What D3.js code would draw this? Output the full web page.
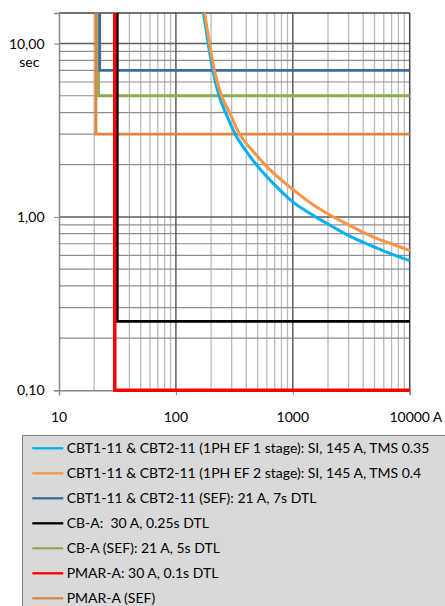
<!DOCTYPE html>
<html><head><meta charset="utf-8">
<script src="https://cdn.jsdelivr.net/npm/d3@7"></script>
<style>body{margin:0;background:#fff}svg{display:block}text{font-family:Lato,"Open Sans",sans-serif;fill:#000}</style>
</head><body>
<svg id="c" width="445" height="606"></svg>
<script>
// ---- data ----
const xTicks = [10, 100, 1000, 10000];
const xTickLabels = ["10", "100", "1000", "10000"];
const xUnit = "A";
const yTicks = [0.1, 1, 10];
const yTickLabels = ["0,10", "1,00", "10,00"];
const yUnit = "sec";

const si1Current = [172, 189, 207, 234, 270, 322, 393, 500, 700, 1000, 1500, 2000, 3000, 5000, 7000, 10000];
const si1Time    = [15, 10, 7, 5, 3.9, 3, 2.43, 1.96, 1.53, 1.22, 1.02, 0.91, 0.78, 0.67, 0.61, 0.56];
const si2Current = [176, 194, 213, 246, 290, 351, 448, 600, 800, 1000, 1500, 2000, 3000, 5000, 7000, 10000];
const si2Time    = [15, 10, 7, 5, 3.95, 3, 2.43, 1.95, 1.63, 1.44, 1.17, 1.04, 0.90, 0.76, 0.70, 0.64];

const sefCbtCurrent = [22.3, 22.3, 10000]; const sefCbtTime = [15, 7, 7];
const cbaCurrent    = [31.5, 31.5, 10000]; const cbaTime    = [15, 0.25, 0.25];
const cbaSefCurrent = [21.8, 21.8, 10000]; const cbaSefTime = [15, 5, 5];
const pmarCurrent   = [30, 30, 10000];     const pmarTime   = [15, 0.1, 0.1];
const pmarSefCurrent= [20.7, 20.7, 10000]; const pmarSefTime= [15, 3, 3];

const seriesNames = [
  "CBT1-11 & CBT2-11 (1PH EF 1 stage): SI, 145 A, TMS 0.35",
  "CBT1-11 & CBT2-11 (1PH EF 2 stage): SI, 145 A, TMS 0.4",
  "CBT1-11 & CBT2-11 (SEF): 21 A, 7s DTL",
  "CB-A:  30 A, 0.25s DTL",
  "CB-A (SEF): 21 A, 5s DTL",
  "PMAR-A: 30 A, 0.1s DTL",
  "PMAR-A (SEF)"
];
const seriesColors = ["#00b0f0", "#f79646", "#3d6b9e", "#000000", "#8aad52", "#ff0000", "#e0853f"];

// ---- chart ----
const svg = d3.select("#c");
const L = 59, R = 409.7, T = 13, B = 390.3;
const x = d3.scaleLog().domain([10, 10000]).range([L, R]);
const y = d3.scaleLog().domain([0.1, 15]).range([B, T]);

// font fit
const probe = svg.append("text").style("font-size", "13px").text(seriesNames[0]);
const w13 = probe.node().getComputedTextLength();
probe.remove();
const fs = 13 * 363 / w13;

const grid = svg.append("g");
// minor vertical
const minorX = [];
[10, 100, 1000].forEach(d => { for (let k = 2; k <= 9; k++) minorX.push(d * k); });
grid.selectAll(".mx").data(minorX).join("line")
  .attr("x1", d => x(d)).attr("x2", d => x(d)).attr("y1", T).attr("y2", B)
  .attr("stroke", "#bababa").attr("stroke-width", 1.3);
// minor horizontal
const minorY = [];
[0.1, 1].forEach(d => { for (let k = 2; k <= 9; k++) minorY.push(d * k); });
grid.selectAll(".my").data(minorY).join("line")
  .attr("x1", L).attr("x2", R).attr("y1", d => y(d)).attr("y2", d => y(d))
  .attr("stroke", "#8e8e8e").attr("stroke-width", 1.2);
// major
grid.selectAll(".Mx").data([100, 1000]).join("line")
  .attr("x1", d => x(d)).attr("x2", d => x(d)).attr("y1", T).attr("y2", B)
  .attr("stroke", "#5e5e5e").attr("stroke-width", 1.5);
grid.selectAll(".My").data([1, 10]).join("line")
  .attr("x1", L).attr("x2", R).attr("y1", d => y(d)).attr("y2", d => y(d))
  .attr("stroke", "#5e5e5e").attr("stroke-width", 1.5);
// borders
grid.append("line").attr("x1", L).attr("x2", R).attr("y1", T).attr("y2", T).attr("stroke", "#444").attr("stroke-width", 1.5);
grid.append("line").attr("x1", R).attr("x2", R).attr("y1", T).attr("y2", B).attr("stroke", "#444").attr("stroke-width", 1.5);

// axes
const xAxis = d3.axisBottom(x).tickValues(xTicks).tickSize(5).tickFormat("");
const gx = svg.append("g").attr("transform", `translate(0,${B})`).call(xAxis);
gx.select(".domain").attr("stroke", "#868686").attr("stroke-width", 1.5);
gx.selectAll(".tick line").attr("stroke", "#868686");
const yAxis = d3.axisLeft(y).tickValues(yTicks).tickSize(5).tickFormat("");
const gy = svg.append("g").attr("transform", `translate(${L},0)`).call(yAxis);
gy.select(".domain").attr("stroke", "#868686").attr("stroke-width", 1.5);
gy.selectAll(".tick line").attr("stroke", "#868686");

// tick labels
xTicks.forEach((v, i) => {
  svg.append("text").attr("x", x(v)).attr("y", 422).attr("text-anchor", "middle")
    .style("font-size", fs + "px").text(xTickLabels[i]);
});
const lastLbl = svg.append("text").style("font-size", fs + "px").text(xTickLabels[3]);
const lw = lastLbl.node().getComputedTextLength();
lastLbl.remove();
svg.append("text").attr("x", x(10000) + lw / 2 + fs * 0.2).attr("y", 422)
  .style("font-size", fs + "px").text(xUnit);

yTicks.forEach((v, i) => {
  svg.append("text").attr("x", 44.5).attr("y", y(v)).attr("dy", "0.36em").attr("text-anchor", "end")
    .style("font-size", fs + "px").text(yTickLabels[i]);
});
svg.append("text").attr("x", 29.3).attr("y", 66.5).attr("text-anchor", "middle")
  .style("font-size", fs + "px").text(yUnit);

// series
svg.append("clipPath").attr("id", "clip").append("rect")
  .attr("x", L).attr("y", T).attr("width", R - L + 1).attr("height", B - T + 2.5);
const plot = svg.append("g").attr("clip-path", "url(#clip)");
const lineGen = d3.line().x(d => x(d[0])).y(d => y(d[1]));
const smooth = d3.line().x(d => x(d[0])).y(d => y(d[1])).curve(d3.curveMonotoneX);
const zip = (a, b) => a.map((v, i) => [v, b[i]]);

const drawOrder = [
  {c: cbaSefCurrent, t: cbaSefTime, k: 4, w: 2.8, g: lineGen},
  {c: sefCbtCurrent, t: sefCbtTime, k: 2, w: 2.8, g: lineGen},
  {c: pmarSefCurrent, t: pmarSefTime, k: 6, w: 2.8, g: lineGen},
  {c: cbaCurrent, t: cbaTime, k: 3, w: 2.8, g: lineGen},
  {c: pmarCurrent, t: pmarTime, k: 5, w: 3.5, g: lineGen},
  {c: si1Current, t: si1Time, k: 0, w: 3, g: smooth},
  {c: si2Current, t: si2Time, k: 1, w: 3, g: smooth}
];
drawOrder.forEach(s => {
  plot.append("path").attr("d", s.g(zip(s.c, s.t))).attr("fill", "none")
    .attr("stroke", seriesColors[s.k]).attr("stroke-width", s.w).attr("stroke-linejoin", "miter");
});

// legend
const lg = svg.append("g");
lg.append("rect").attr("x", 22.5).attr("y", 435.5).attr("width", 440).attr("height", 200)
  .attr("fill", "#d9d9d9").attr("stroke", "#7f7f7f").attr("stroke-width", 1);
seriesNames.forEach((n, i) => {
  const cy = 448.3 + 25 * i;
  lg.append("line").attr("x1", 32.3).attr("x2", 63.3).attr("y1", cy).attr("y2", cy)
    .attr("stroke", seriesColors[i]).attr("stroke-width", 2.3);
  lg.append("text").attr("x", 66.7).attr("y", cy).attr("dy", "0.36em")
    .style("font-size", fs + "px").style("white-space", "pre").attr("xml:space", "preserve").text(n);
});
</script>
</body></html>
